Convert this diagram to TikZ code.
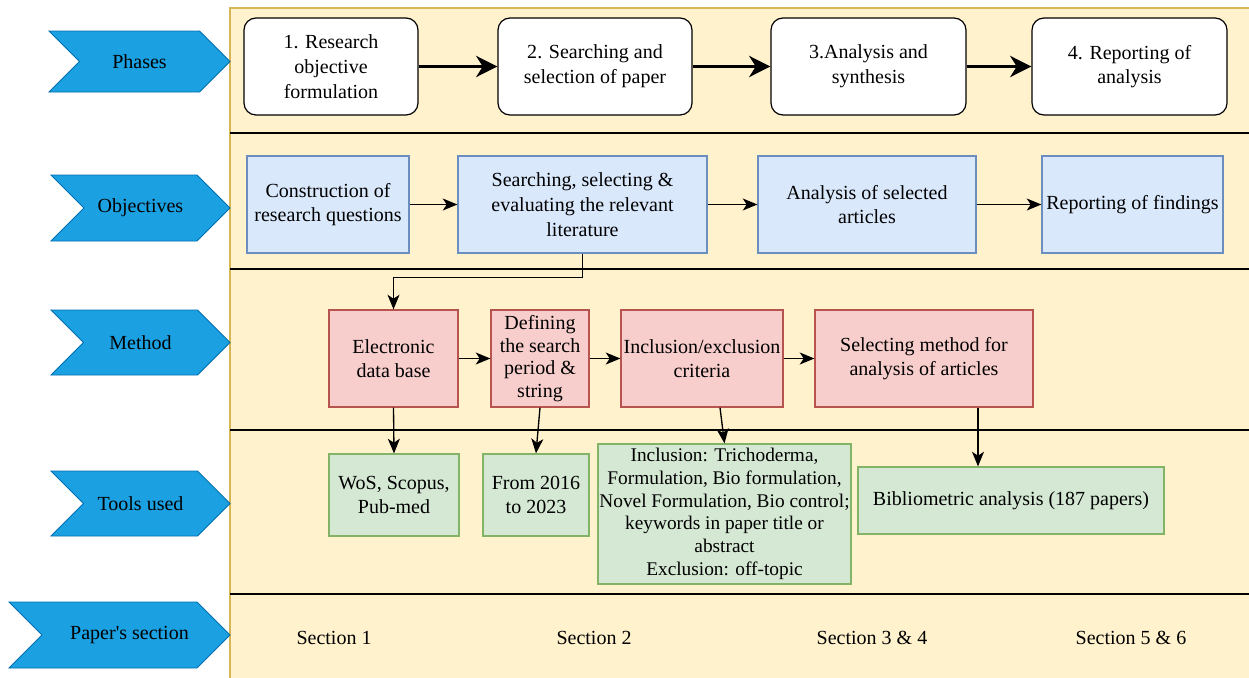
\documentclass[tikz,border=0pt]{standalone}
\usepackage{fontspec}
\setmainfont{Liberation Serif}
\usetikzlibrary{positioning,shapes.symbols,arrows.meta}
\definecolor{bgfill}{HTML}{FFF2CC}
\definecolor{bgline}{HTML}{D6B656}
\definecolor{chevfill}{HTML}{1BA1E2}
\definecolor{chevline}{HTML}{006EAF}
\definecolor{objfill}{HTML}{DAE8FC}
\definecolor{objline}{HTML}{6C8EBF}
\definecolor{methfill}{HTML}{F8CECC}
\definecolor{methline}{HTML}{B85450}
\definecolor{toolfill}{HTML}{D5E8D4}
\definecolor{toolline}{HTML}{82B366}

\begin{document}
\begin{tikzpicture}[x=0.75pt,y=-0.75pt,
  every node/.style={font=\fontsize{15}{18.5}\selectfont,align=center,inner sep=1pt},
  chev/.style={shape=signal,signal to=east,signal from=west,signal pointer angle=90,
    fill=chevfill,draw=chevline,line width=0.6pt,minimum width=134.25pt,minimum height=48.75pt},
  phasebox/.style={draw,rounded corners=9pt,fill=white,line width=0.9pt,
    minimum width=146.25pt,minimum height=72.75pt},
  objbox/.style={draw=objline,fill=objfill,line width=0.9pt,minimum height=72.75pt},
  methbox/.style={draw=methline,fill=methfill,line width=0.9pt,minimum height=72.75pt},
  toolbox/.style={draw=toolline,fill=toolfill,line width=0.9pt},
  bigarr/.style={-{Stealth[length=16pt,width=16pt,inset=5pt]},line width=1.6pt},
  arr/.style={-{Stealth[length=11pt,width=9pt,inset=3pt]},line width=1pt}]
\useasboundingbox (0,0) rectangle (1249,678);
% background band
\fill[bgfill] (230,8) rectangle (1249,678);
\draw[bgline,line width=1pt] (230,678) -- (230,8) -- (1249,8);
\foreach \y in {133,269,430,594}
  \draw[line width=1.2pt] (230,\y) -- (1249,\y);

% row labels
\node[chev,minimum height=45.75pt,minimum width=135.75pt] (lblphase) at (139.5,61.5) {Phases};
\node[chev,minimum height=49.5pt] (lblobj) at (140.5,208) {Objectives};
\node[chev] (lblmeth) at (140.5,342.5) {Method};
\node[chev] (lbltool) at (140.5,503.5) {Tools used};
\node[chev,minimum height=49.5pt,minimum width=165.75pt] (lblsec) at (119.5,635)
  {\hspace*{15pt}Paper\textquotesingle s section};

% phases
\node[phasebox,minimum width=130.5pt] (phase1) at (331,66.5) {1. Research\\objective\\formulation};
\node[phasebox,minimum width=145.5pt] (phase2) at (595,66.5) {2. Searching and\\selection of paper};
\node[phasebox] (phase3) at (868.5,66.5) {3.Analysis and\\synthesis};
\node[phasebox] (phase4) at (1129.5,66.5) {4. Reporting of\\analysis};
\draw[bigarr] (phase1) -- (phase2);
\draw[bigarr] (phase2) -- (phase3);
\draw[bigarr] (phase3) -- (phase4);

% objectives
\node[objbox,minimum width=121.5pt] (obj1) at (328,204.5) {Construction of\\research questions};
\node[objbox,minimum width=186.75pt] (obj2) at (582.5,204.5) {Searching, selecting \&\\evaluating the relevant\\literature};
\node[objbox,minimum width=163.5pt] (obj3) at (867,204.5) {Analysis of selected\\articles};
\node[objbox,minimum width=135.75pt] (obj4) at (1132.5,204.5) {Reporting of findings};
\draw[arr] (obj1) -- (obj2);
\draw[arr] (obj2) -- (obj3);
\draw[arr] (obj3) -- (obj4);

% method
\node[methbox,minimum width=96.75pt] (meth1) at (393.5,358.5) {Electronic\\data base};
\node[methbox,minimum width=73.5pt,font=\fontsize{15}{17}\selectfont] (meth2) at (540,358.5) {Defining\\the search\\period \&\\string};
\node[methbox,minimum width=121.5pt] (meth3) at (702,358.5) {Inclusion/exclusion\\criteria};
\node[methbox,minimum width=163.5pt] (meth4) at (924,358.5) {Selecting method for\\analysis of articles};
\draw[arr] (meth1) -- (meth2);
\draw[arr] (meth2) -- (meth3);
\draw[arr] (meth3) -- (meth4);
\draw[arr] (obj2.south) -- ++(0,24) -| (meth1.north);

% tools used
\node[toolbox,minimum width=97.5pt,minimum height=61.5pt] (tool1) at (394,495) {WoS, Scopus,\\Pub-med};
\node[toolbox,minimum width=79.5pt,minimum height=61.5pt] (tool2) at (536,495) {From 2016\\to 2023};
\node[toolbox,minimum width=189.75pt,minimum height=105pt,inner sep=0.5pt,font=\fontsize{14.5}{17}\selectfont] (tool3) at (724.5,514)
  {Inclusion: Trichoderma,\\Formulation, Bio formulation,\\Novel Formulation, Bio control;\\keywords in paper title or\\abstract\\Exclusion: off-topic};
\node[toolbox,minimum width=229.5pt,minimum height=50.25pt] (tool4) at (1011,500.5) {Bibliometric analysis (187 papers)};
\draw[arr] (meth1.south) -- (tool1.north);
\draw[arr] (meth2.south) -- (tool2.north);
\draw[arr] ([xshift=13.5pt]meth3.south) -- (tool3.north);
\draw[arr] ([xshift=40.5pt]meth4.south) -- ([xshift=-24.75pt]tool4.north);

% paper sections
\node (sec1) at (334,638) {Section 1};
\node (sec2) at (594,638) {Section 2};
\node (sec3) at (872,638) {Section 3 \& 4};
\node (sec4) at (1131,638) {Section 5 \& 6};
\end{tikzpicture}
\end{document}
